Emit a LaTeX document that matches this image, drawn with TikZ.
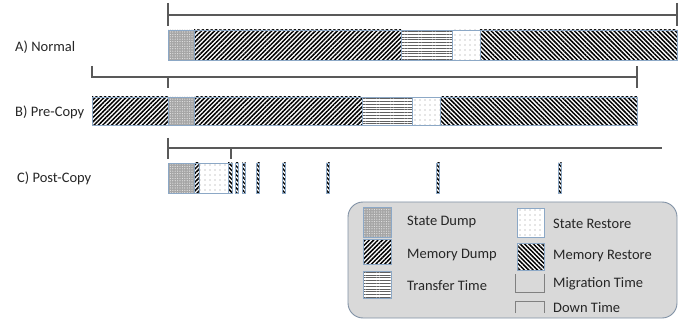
\documentclass[tikz,border=0pt]{standalone}
\usepackage{fontspec}
\setmainfont{Carlito}
\usetikzlibrary{patterns,patterns.meta}

\definecolor{barline}{RGB}{140,168,198}
\definecolor{brk}{RGB}{89,89,89}
\definecolor{legline}{RGB}{128,145,165}
\definecolor{legfill}{RGB}{217,217,217}
\definecolor{txt}{RGB}{38,38,38}

\tikzset{
  seg/.style={draw=barline, line width=0.8pt},
  sdump/.style={seg, preaction={fill=gray!70},
    pattern={Dots[distance=2.4pt,radius=0.6pt]}, pattern color=gray!20},
  mdump/.style={seg, preaction={fill=white},
    pattern={Lines[distance=3.1pt,angle=45,line width=1.5pt]}, pattern color=black},
  mrest/.style={seg, preaction={fill=white},
    pattern={Lines[distance=3.1pt,angle=-45,line width=1.5pt]}, pattern color=black},
  xfer/.style={seg, preaction={fill=white},
    pattern={Lines[distance=2.8pt,angle=0,line width=1pt]}, pattern color=gray!75!black},
  srest/.style={seg, preaction={fill=white},
    pattern={Dots[distance=5pt,radius=0.6pt]}, pattern color=gray!85},
  brack/.style={draw=brk, line width=1.2pt},
  lbl/.style={anchor=west, inner sep=0pt, text=txt, font=\fontsize{14.5}{17}\selectfont},
}

\begin{document}
\begin{tikzpicture}[x=1pt,y=-1pt]
\useasboundingbox (0,0) rectangle (684,320);

% row labels
\node[lbl] (la) at (15,47) {A) Normal};
\node[lbl] (lb) at (15,112) {B) Pre-Copy};
\node[lbl] (lc) at (17,178) {C) Post-Copy};

% A) normal migration: migration time and down time coincide
\draw[brack] (168,15) -- (677,15);
\draw[brack] (168,3) -- (168,26);
\draw[brack] (677,3) -- (677,26);
\path[sdump] (168,30) rectangle (194,60);
\path[mdump] (194,30) rectangle (401,60);
\path[xfer]  (401,30) rectangle (452,60);
\path[srest] (452,30) rectangle (480,60);
\path[mrest] (480,30) rectangle (677,60);

% B) pre-copy: migration time (ticks up) and down time (ticks down)
\draw[brack] (92,66) -- (92,77) -- (637,77) -- (637,66);
\draw[brack] (168,88) -- (168,77);
\draw[brack] (637,77) -- (637,88);
\path[mdump] (92,97) rectangle (168,125);
\path[sdump] (168,97) rectangle (194,125);
\path[mdump] (194,97) rectangle (362,125);
\path[xfer]  (362,97) rectangle (412,125);
\path[srest] (412,97) rectangle (440,125);
\path[mrest] (440,97) rectangle (637,125);

% C) post-copy
\draw[brack] (168,138) -- (168,148) -- (662,148);
\draw[brack] (168,148) -- (168,159);
\draw[brack] (168,148) -- (231,148) -- (231,159);
\path[sdump] (168,163) rectangle (194,193);
\path[mdump] (194,163) rectangle (199,193);
\path[srest] (199,163) rectangle (228,193);
\path[mrest] (228,163) rectangle (232,193);
\foreach \a in {235,242,256,282,326,436,558}
  \path[mrest] (\a,163) rectangle (\a+3.5,193);

% legend
\draw[draw=legline, fill=legfill, line width=0.9pt, rounded corners=15pt]
  (348,202) rectangle (677,318);
\path[sdump] (363,207) rectangle (391,237);
\path[mdump] (363,239) rectangle (391,264);
\path[xfer]  (363,271) rectangle (391,298);
\path[srest] (517,208) rectangle (544,237);
\path[mrest] (517,243) rectangle (544,270);
\draw[draw=gray, line width=1pt] (515,274) -- (515,292) -- (544,292) -- (544,274);
\draw[draw=gray, line width=1pt] (515,313) -- (515,301) -- (544,301) -- (544,313);
\node[lbl] (t1) at (407,222) {State Dump};
\node[lbl] (t2) at (407,255) {Memory Dump};
\node[lbl] (t3) at (407,286) {Transfer Time};
\node[lbl] (t4) at (553,224) {State Restore};
\node[lbl] (t5) at (553,256) {Memory Restore};
\node[lbl] (t6) at (553,284) {Migration Time};
\node[lbl] (t7) at (553,308) {Down Time};
\end{tikzpicture}
\end{document}
